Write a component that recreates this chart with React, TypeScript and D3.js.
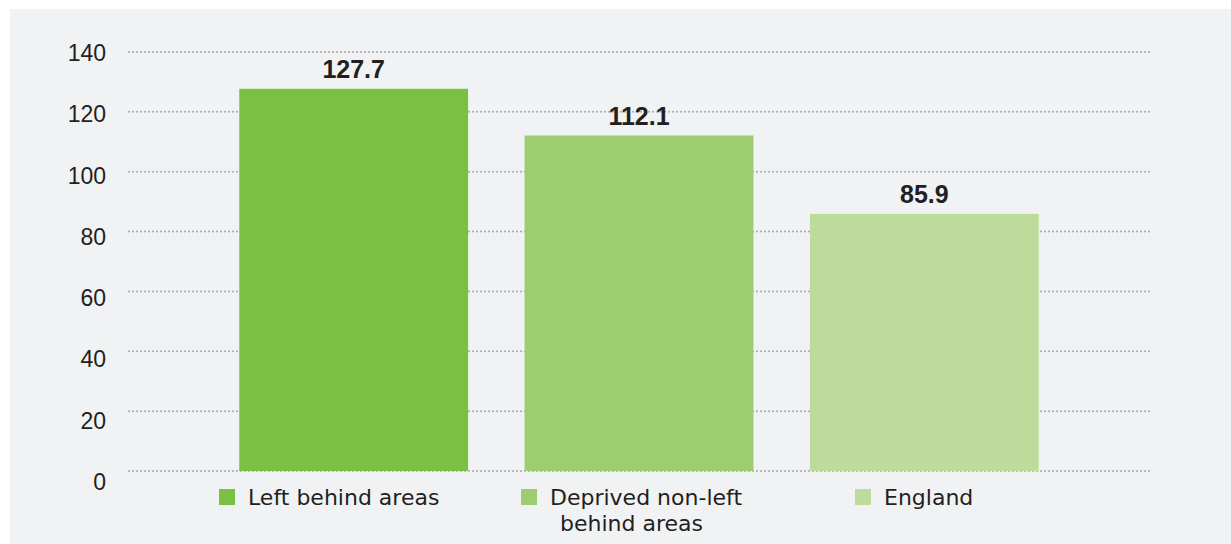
import React from "react";
import * as d3 from "d3";

const categories = ["Left behind areas", "Deprived non-left behind areas", "England"];
const values = [127.7, 112.1, 85.9];
const colors = ["#7ac143", "#9dcd6f", "#bddc9b"];
const yTicks = [0, 20, 40, 60, 80, 100, 120, 140];
const legendLines = [["Left behind areas"], ["Deprived non-left", "behind areas"], ["England"]];

const W = 1231;
const H = 544;

export default function App() {
  const y = d3.scaleLinear().domain([0, 140]).range([471, 52]);
  const yLabel = d3.scaleLinear().domain([0, 140]).range([482, 53]);
  const x = d3.scaleBand<string>().domain(categories).range([211, 1067]).paddingInner(0.198).paddingOuter(0.099);

  const legendSquareX = [219, 521, 855];
  const legendTextX = [248, 550, 884];
  const font = "'Liberation Sans', Arial, sans-serif";
  const legendFont = "'DejaVu Sans', sans-serif";

  return (
    <div style={{ position: "absolute", left: 0, top: 0 }}>
      <svg width={W} height={H} style={{ display: "block" }}>
        <rect x={0} y={0} width={W} height={H} fill="#ffffff" />
        <rect x={10} y={9} width={W - 10} height={H - 9} fill="#f1f2f4" />
        {yTicks.map((t) => (
          <line
            key={"g" + t}
            x1={129}
            x2={1151}
            y1={y(t)}
            y2={y(t)}
            stroke="#a5a7aa"
            strokeWidth={2}
            strokeLinecap="round"
            strokeDasharray="0 4"
          />
        ))}
        {yTicks.map((t) => (
          <text
            key={"t" + t}
            x={106}
            y={yLabel(t)}
            textAnchor="end"
            dominantBaseline="central"
            fontFamily={font}
            fontSize={23}
            fill="#231f20"
          >
            {t}
          </text>
        ))}
        {categories.map((c, i) => (
          <rect
            key={"b" + c}
            x={x(c)}
            y={y(values[i])}
            width={x.bandwidth()}
            height={y(0) - y(values[i])}
            fill={colors[i]}
          />
        ))}
        {categories.map((c, i) => (
          <text
            key={"l" + c}
            x={(x(c) as number) + x.bandwidth() / 2}
            y={y(values[i]) - 11}
            textAnchor="middle"
            fontFamily={font}
            fontWeight="bold"
            fontSize={25}
            fill="#231f20"
          >
            {values[i].toFixed(1)}
          </text>
        ))}
        {categories.map((c, i) => (
          <g key={"lg" + c}>
            <rect x={legendSquareX[i]} y={489} width={16} height={16} fill={colors[i]} />
            {legendLines[i].map((ln, j) => (
              <text
                key={ln}
                x={legendTextX[i] + (j > 0 ? 10 : 0)}
                y={505 + j * 26}
                fontFamily={legendFont}
                fontSize={22}
                fill="#231f20"
              >
                {ln}
              </text>
            ))}
          </g>
        ))}
      </svg>
    </div>
  );
}
